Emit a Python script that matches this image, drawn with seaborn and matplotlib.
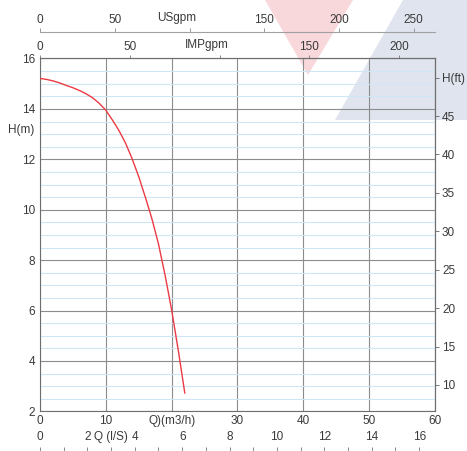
import numpy as np
import pandas as pd
import matplotlib
matplotlib.use('Agg')
import matplotlib.pyplot as plt
import seaborn as sns
from matplotlib.ticker import MultipleLocator
from matplotlib.patches import Polygon
import matplotlib.transforms as mtransforms

# ---- data ----
flow_m3h = [0, 1, 2, 3, 4, 5, 6, 7, 8, 9, 10, 11, 12, 13, 14, 15, 16, 17, 18, 19, 20, 21, 22]
head_m = [15.21, 15.17, 15.11, 15.03, 14.93, 14.84, 14.73, 14.60, 14.44, 14.22, 13.95,
          13.56, 13.14, 12.64, 12.02, 11.31, 10.50, 9.64, 8.64, 7.40, 6.02, 4.43, 2.72]

x_ticks_m3h = [0, 10, 20, 30, 40, 50, 60]
x_labels_m3h = ['0', '10', 'Q)(m3/h)', '30', '40', '50', '60']
y_ticks_m = [2, 4, 6, 8, 10, 12, 14, 16]
ft_ticks = [10, 15, 20, 25, 30, 35, 40, 45, 50]
ft_labels = ['10', '15', '20', '25', '30', '35', '40', '45', 'H(ft)']
imp_ticks = [0, 50, 100, 150, 200]
imp_labels = ['0', '50', '', '150', '200']
us_ticks = [0, 50, 100, 150, 200, 250]
us_labels = ['0', '50', '', '150', '200', '250']
ls_ticks = [0, 2, 4, 6, 8, 10, 12, 14, 16]
ls_labels = ['0', '2', '4', '6', '8', '10', '12', '14', '16']

M3H_TO_IMP = 3.666
M3H_TO_US = 4.403
M3H_PER_LS = 3.6
M_TO_FT = 1 / 0.3048

sns.set_theme(style='white')
plt.rcParams['font.family'] = ['Liberation Sans', 'DejaVu Sans']

TXT = '#3a3a3a'
FS = 8.5

W, H = 467, 451
fig = plt.figure(figsize=(W / 100, H / 100), dpi=100)
fig.patch.set_facecolor('white')

# background watermark shapes
pink = Polygon([(265 / W, 1), (353 / W, 1), (308 / W, 1 - 75 / H)], closed=True,
               transform=fig.transFigure, facecolor='#f9d8dc', edgecolor='none', zorder=-2)
blue = Polygon([(403 / W, 1), (1, 1), (1, 1 - 120 / H), (335 / W, 1 - 120 / H)], closed=True,
               transform=fig.transFigure, facecolor='#e0e4ef', edgecolor='none', zorder=-2)
fig.patches.extend([pink, blue])

ax_h_px = 411.4 - 58.5
ax = fig.add_axes([40 / W, 1 - 411.4 / H, 395 / W, ax_h_px / H])
ax.set_facecolor('none')

sns.lineplot(x=flow_m3h, y=head_m, ax=ax, color='#ec3a44', lw=1.0, sort=False, zorder=5)

ax.set_xlim(0, 60)
ax.set_ylim(2, 16)
ax.set_xticks(x_ticks_m3h, x_labels_m3h)
ax.set_yticks(y_ticks_m)
ax.yaxis.set_minor_locator(MultipleLocator(0.5))
ax.grid(True, which='major', color='#8c8c8c', lw=0.8)
ax.grid(True, which='minor', axis='y', color='#cfe7f4', lw=0.8)
ax.tick_params(axis='x', length=0, pad=2.5, labelsize=FS, labelcolor=TXT)
ax.tick_params(axis='y', which='both', length=0, pad=3.6, labelsize=FS, labelcolor=TXT)
for s in ax.spines.values():
    s.set_color('#6e6e6e')
    s.set_linewidth(0.8)

blend_y = mtransforms.blended_transform_factory(ax.transAxes, ax.transData)
ax.text(-0.013, 13.16, 'H(m)', transform=blend_y, ha='right', va='center',
        fontsize=FS, color=TXT)

# right axis: feet
sec_r = ax.secondary_yaxis('right', functions=(lambda m: m * M_TO_FT, lambda f: f / M_TO_FT))
sec_r.set_yticks(ft_ticks, ft_labels)
sec_r.tick_params(length=3, width=0.7, color='#777777', pad=2, labelsize=FS, labelcolor=TXT)
sec_r.spines['right'].set_color('#6e6e6e')
sec_r.spines['right'].set_linewidth(0.8)

# top axis: IMPgpm
blend_x = mtransforms.blended_transform_factory(ax.transData, ax.transAxes)
sec_imp = ax.secondary_xaxis('top', functions=(lambda q: q * M3H_TO_IMP, lambda g: g / M3H_TO_IMP))
sec_imp.set_xticks(imp_ticks, imp_labels)
sec_imp.tick_params(length=2.5, width=0.7, color='#888888', pad=1.5, labelsize=FS, labelcolor=TXT)
sec_imp.spines['top'].set_color('#6e6e6e')
sec_imp.spines['top'].set_linewidth(0.8)
ax.annotate('IMPgpm', xy=(100 / M3H_TO_IMP, 1), xycoords=blend_x, xytext=(-9, 9.5),
            textcoords='offset points', ha='center', va='center', fontsize=FS, color=TXT)

# upper axis: USgpm
us_loc = 1 + 26.5 / ax_h_px
sec_us = ax.secondary_xaxis(us_loc, functions=(lambda q: q * M3H_TO_US, lambda g: g / M3H_TO_US))
sec_us.set_xticks(us_ticks, us_labels)
sec_us.tick_params(length=3, width=0.7, color='#999999', pad=1.5, labelsize=FS, labelcolor=TXT)
sec_us.spines['top'].set_color('#a0a0a0')
sec_us.spines['top'].set_linewidth(0.8)
ax.annotate('USgpm', xy=(100 / M3H_TO_US, us_loc), xycoords=blend_x, xytext=(-9.4, 10.3),
            textcoords='offset points', ha='center', va='center', fontsize=FS, color=TXT)

# bottom axis: l/s
ls_loc = -(451 - 411.4) / ax_h_px
sec_ls = ax.secondary_xaxis(ls_loc, functions=(lambda q: q / M3H_PER_LS, lambda l: l * M3H_PER_LS))
sec_ls.set_alignment('top')
sec_ls.set_xticks(ls_ticks, ls_labels)
sec_ls.xaxis.set_minor_locator(MultipleLocator(1))
sec_ls.tick_params(which='both', length=3, width=0.7, color='#888888', pad=2.5,
                   labelsize=FS, labelcolor=TXT)
sec_ls.spines['top'].set_visible(False)
sec_ls.spines['bottom'].set_visible(False)
ax.annotate('Q (l/S)', xy=(3 * M3H_PER_LS, ls_loc), xycoords=blend_x, xytext=(0, 10),
            textcoords='offset points', ha='center', va='center', fontsize=FS, color=TXT)

fig.savefig('out.png', dpi=100)
